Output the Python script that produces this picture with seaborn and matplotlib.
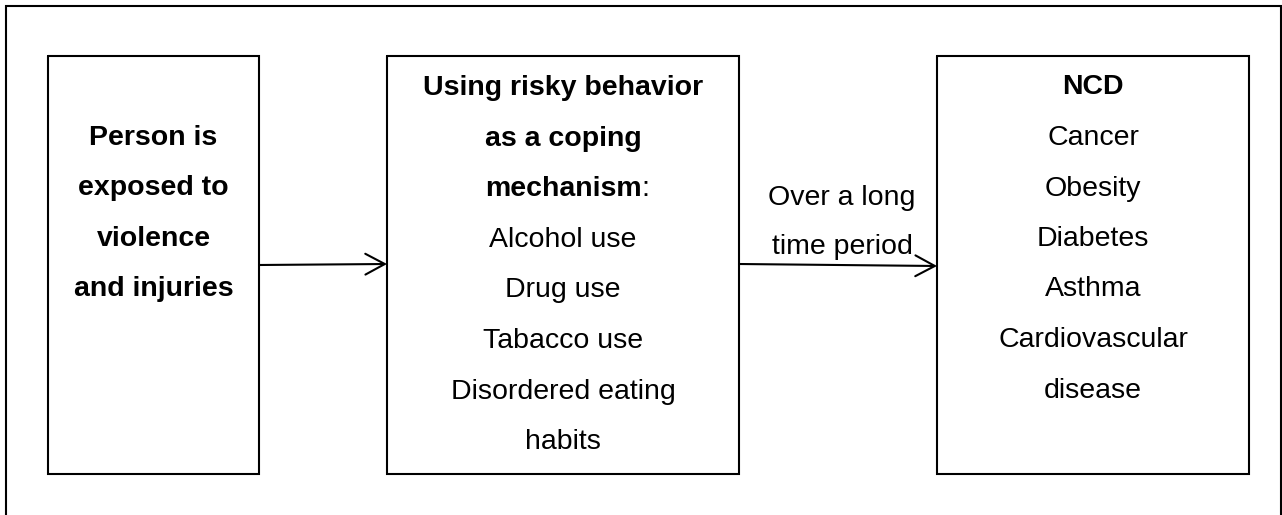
import matplotlib
matplotlib.use("Agg")
import matplotlib.pyplot as plt
import seaborn as sns

# text content of the three boxes (bold flag per line)
box1_lines = ["Person is", "exposed to", "violence", "and injuries"]
box1_bold = [True, True, True, True]

box2_lines = ["Using risky behavior", "as a coping", "mechanism", "Alcohol use",
              "Drug use", "Tabacco use", "Disordered eating", "habits"]
box2_bold = [True, True, True, False, False, False, False, False]

box3_lines = ["NCD", "Cancer", "Obesity", "Diabetes", "Asthma",
              "Cardiovascular", "disease"]
box3_bold = [True, False, False, False, False, False, False]

arrow_label = ["Over a long", "time period"]

sns.set_theme(style="white")
plt.rcParams['font.family'] = ['Liberation Sans', 'DejaVu Sans']

W, H = 1282, 515
fig = plt.figure(figsize=(W / 100, H / 100), dpi=100)
ax = fig.add_axes([0, 0, 1, 1])
ax.set_xlim(0, W)
ax.set_ylim(H, 0)
ax.axis('off')

FS = 20.5
LW = 1.5

# outer frame (bottom edge runs off the image)
ax.plot([6, 6, 1281, 1281], [530, 6, 6, 530], color='black', lw=LW, solid_joinstyle='miter')

# boxes: (left, right, top, bottom)
boxes = [(48, 259, 56, 474), (387, 739, 56, 474), (937, 1249, 56, 474)]
for l, r, t, b in boxes:
    ax.plot([l, r, r, l, l], [t, t, b, b, t], color='black', lw=LW, solid_joinstyle='miter')


def write_lines(lines, bold, cx, y0, step):
    # y0 is the baseline of the first line
    out = []
    for i, (s, bd) in enumerate(zip(lines, bold)):
        t = ax.text(cx, y0 + i * step, s, ha='center', va='baseline', fontsize=FS,
                    fontweight='bold' if bd else 'normal', color='black')
        out.append(t)
    return out


write_lines(box1_lines, box1_bold, (48 + 259) / 2, 145, 50.4)
txt2 = write_lines(box2_lines, box2_bold, (387 + 739) / 2, 95, 50.6)
write_lines(box3_lines, box3_bold, (937 + 1249) / 2, 94.5, 50.5)
write_lines(arrow_label, [False, False], 842, 205, 49)

# regular colon after the bold "mechanism"
fig.canvas.draw()
bb = txt2[2].get_window_extent()
x_end = ax.transData.inverted().transform((bb.x1, bb.y0))[0]
ax.text(x_end, 95 + 2 * 50.6, ":", ha='left', va='baseline', fontsize=FS, color='black')

# arrows
aprops = dict(arrowstyle='->,head_length=1.4,head_width=0.75', lw=LW, color='black',
              shrinkA=0, shrinkB=0, mutation_scale=10)
ax.annotate('', xy=(387, 264), xytext=(259, 265), arrowprops=aprops)
ax.annotate('', xy=(937, 266), xytext=(739, 264), arrowprops=aprops)

fig.savefig('out.png', dpi=100, facecolor='white')
